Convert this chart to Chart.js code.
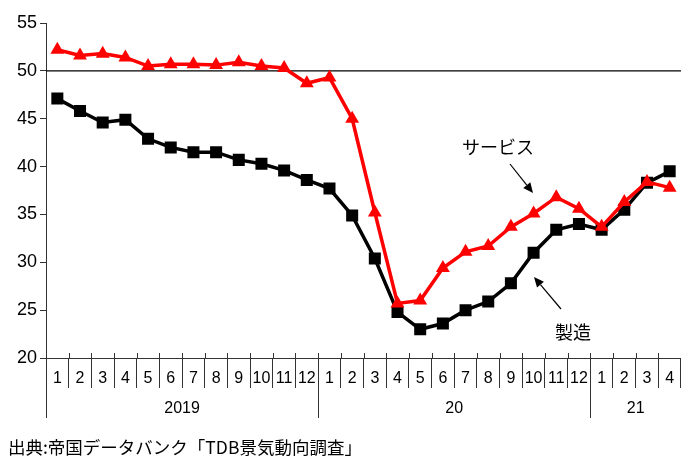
<!DOCTYPE html>
<html>
<head>
<meta charset="utf-8">
<script src="https://cdn.jsdelivr.net/npm/chart.js@4"></script>
<style>
  html, body { margin: 0; padding: 0; background: #fff; }
  #wrap { width: 681px; height: 456px; }
</style>
</head>
<body>
<div id="wrap"><canvas id="tdb" width="681" height="456"></canvas></div>
<script>
// 月ラベル（2019/1 〜 2021/4）
const years = ['2019', '20', '21'];
const monthsPerYear = [12, 12, 4];
const months = [
  '1','2','3','4','5','6','7','8','9','10','11','12',
  '1','2','3','4','5','6','7','8','9','10','11','12',
  '1','2','3','4'
];

// 景気DI
const service = [
  52.2, 51.6, 51.8, 51.4, 50.5, 50.7, 50.7, 50.6, 50.9, 50.5, 50.3, 48.7,
  49.3, 45.0, 35.2, 25.7, 26.0, 29.4, 31.1, 31.7, 33.7, 35.1, 36.8, 35.6,
  33.7, 36.3, 38.4, 37.8
];
const seizo = [
  47.1, 45.8, 44.6, 44.9, 42.9, 42.0, 41.5, 41.5, 40.7, 40.3, 39.6, 38.6,
  37.7, 34.9, 30.4, 24.8, 23.0, 23.6, 25.0, 25.9, 27.8, 31.0, 33.4, 34.0,
  33.4, 35.5, 38.3, 39.5
];

const yTicks = { min: 20, max: 55, step: 5 };
const refLine = 50;
const source = '出典:帝国データバンク「TDB景気動向調査」';

const numFont = "'Liberation Sans', Arial, sans-serif";
const narrowFont = "'Liberation Sans Narrow', 'Liberation Sans', Arial, sans-serif";
const jpFont = "'Noto Sans CJK JP', 'Noto Sans', sans-serif";

function arrow(ctx, x1, y1, x2, y2) {
  const a = Math.atan2(y2 - y1, x2 - x1);
  const len = 10, w = 4.5;
  ctx.beginPath();
  ctx.moveTo(x1, y1);
  ctx.lineTo(x2 - Math.cos(a) * len, y2 - Math.sin(a) * len);
  ctx.lineWidth = 1.2;
  ctx.stroke();
  ctx.beginPath();
  ctx.moveTo(x2, y2);
  ctx.lineTo(x2 - Math.cos(a) * len - Math.sin(a) * w, y2 - Math.sin(a) * len + Math.cos(a) * w);
  ctx.lineTo(x2 - Math.cos(a) * len + Math.sin(a) * w, y2 - Math.sin(a) * len - Math.cos(a) * w);
  ctx.closePath();
  ctx.fill();
}

const extras = {
  id: 'extras',
  beforeDatasetsDraw(chart) {
    const { ctx, chartArea: ca } = chart;
    const y = chart.scales.y.getPixelForValue(refLine);
    ctx.save();
    ctx.strokeStyle = '#000';
    ctx.lineWidth = 1.4;
    ctx.beginPath();
    ctx.moveTo(ca.left, y);
    ctx.lineTo(ca.right, y);
    ctx.stroke();
    ctx.restore();
  },
  afterDraw(chart) {
    const { ctx, chartArea: ca } = chart;
    const x = chart.scales.x;
    const half = (x.getPixelForValue(1) - x.getPixelForValue(0)) / 2;
    ctx.save();
    ctx.strokeStyle = '#333';
    ctx.lineWidth = 1;

    // 目盛りの上への突き出し
    for (let i = 0; i <= months.length; i++) {
      const px = Math.round(x.getPixelForValue(i) - half) + 0.5;
      ctx.beginPath();
      ctx.moveTo(px, ca.bottom - 5);
      ctx.lineTo(px, ca.bottom);
      ctx.stroke();
    }

    // 年の区切りと年ラベル
    ctx.fillStyle = '#000';
    ctx.font = '16px ' + narrowFont;
    ctx.textAlign = 'center';
    ctx.textBaseline = 'middle';
    let start = 0;
    years.forEach((yr, k) => {
      const end = start + monthsPerYear[k] - 1;
      const px = Math.round(x.getPixelForValue(start) - half) + 0.5;
      ctx.beginPath();
      ctx.moveTo(px, ca.bottom);
      ctx.lineTo(px, ca.bottom + 60);
      ctx.stroke();
      const mid = (x.getPixelForValue(start) + x.getPixelForValue(end)) / 2;
      ctx.fillText(yr, mid, ca.bottom + 51);
      start = end + 1;
    });

    // 注記
    ctx.fillStyle = '#000';
    ctx.strokeStyle = '#000';
    ctx.font = '18px ' + jpFont;
    ctx.textAlign = 'left';
    ctx.fillText('サービス', 462, 147);
    arrow(ctx, 510, 164, 533, 193);
    ctx.fillText('製造', 555, 332);
    arrow(ctx, 561, 309, 534, 277);

    // 出典
    ctx.font = '17.5px ' + jpFont;
    ctx.fillText(source, 8, 447);
    ctx.restore();
  }
};

new Chart(document.getElementById('tdb'), {
  type: 'line',
  data: {
    labels: months,
    datasets: [
      {
        label: 'サービス',
        data: service,
        borderColor: '#ff0000',
        backgroundColor: '#ff0000',
        borderWidth: 3.5,
        pointStyle: 'triangle',
        pointRadius: 8,
        pointBorderWidth: 0,
        tension: 0
      },
      {
        label: '製造',
        data: seizo,
        borderColor: '#000',
        backgroundColor: '#000',
        borderWidth: 3.5,
        pointStyle: 'rect',
        pointRadius: 8.5,
        pointBorderWidth: 0,
        tension: 0
      }
    ]
  },
  plugins: [extras],
  options: {
    responsive: false,
    devicePixelRatio: 1,
    animation: false,
    layout: { autoPadding: false, padding: { top: 23, right: 0, left: 0, bottom: 0 } },
    plugins: {
      legend: { display: false },
      tooltip: { enabled: false }
    },
    scales: {
      x: {
        type: 'category',
        offset: true,
        afterFit: (scale) => { scale.height = 98; },
        grid: {
          offset: true,
          drawOnChartArea: false,
          tickLength: 30,
          color: '#333',
          tickColor: '#333'
        },
        border: { color: '#333', width: 1 },
        ticks: {
          color: '#000',
          padding: -19,
          maxRotation: 0,
          autoSkip: false,
          font: { family: narrowFont, size: 16 }
        }
      },
      y: {
        min: yTicks.min,
        max: yTicks.max,
        afterFit: (scale) => { scale.width = 46; },
        grid: {
          drawOnChartArea: false,
          tickLength: 6,
          color: '#333',
          tickColor: '#333'
        },
        border: { color: '#333', width: 1 },
        ticks: {
          stepSize: yTicks.step,
          color: '#000',
          padding: 3,
          font: { family: numFont, size: 18 }
        }
      }
    }
  }
});
</script>
</body>
</html>
